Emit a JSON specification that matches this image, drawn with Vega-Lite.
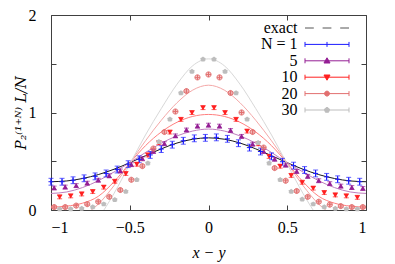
{
  "$schema": "https://vega.github.io/schema/vega-lite/v6.json",
  "width": 315,
  "height": 195,
  "autosize": {"type": "none"},
  "padding": {"left": 51, "top": 15, "right": 29, "bottom": 54},
  "background": "white",
  "config": {
    "font": "Liberation Serif",
    "view": {"stroke": "#404040", "strokeWidth": 1},
    "axis": {
      "labelFont": "Liberation Serif", "labelFontSize": 16, "labelColor": "black",
      "titleFont": "Liberation Serif", "titleFontSize": 16, "titleFontWeight": "normal", "titleFontStyle": "italic", "titleColor": "black",
      "tickColor": "#404040", "tickSize": -5, "domain": false, "grid": false
    }
  },
  "datasets": {
    "curves": [
      {"N": "e1", "x": -1, "y": 0.29}, {"N": "e1", "x": -0.9, "y": 0.298}, {"N": "e1", "x": -0.8, "y": 0.323}, {"N": "e1", "x": -0.7, "y": 0.363}, {"N": "e1", "x": -0.6, "y": 0.418}, {"N": "e1", "x": -0.5, "y": 0.485}, {"N": "e1", "x": -0.4, "y": 0.557}, {"N": "e1", "x": -0.3, "y": 0.627}, {"N": "e1", "x": -0.2, "y": 0.687}, {"N": "e1", "x": -0.1, "y": 0.726}, {"N": "e1", "x": 0, "y": 0.74},
      {"N": "e1", "x": 0.1, "y": 0.726}, {"N": "e1", "x": 0.2, "y": 0.687}, {"N": "e1", "x": 0.3, "y": 0.627}, {"N": "e1", "x": 0.4, "y": 0.557}, {"N": "e1", "x": 0.5, "y": 0.485}, {"N": "e1", "x": 0.6, "y": 0.418}, {"N": "e1", "x": 0.7, "y": 0.363}, {"N": "e1", "x": 0.8, "y": 0.323}, {"N": "e1", "x": 0.9, "y": 0.298}, {"N": "e1", "x": 1, "y": 0.29},
      {"N": "e5", "x": -1, "y": 0.17}, {"N": "e5", "x": -0.9, "y": 0.185}, {"N": "e5", "x": -0.8, "y": 0.23}, {"N": "e5", "x": -0.7, "y": 0.3}, {"N": "e5", "x": -0.6, "y": 0.39}, {"N": "e5", "x": -0.5, "y": 0.485}, {"N": "e5", "x": -0.4, "y": 0.59}, {"N": "e5", "x": -0.3, "y": 0.685}, {"N": "e5", "x": -0.2, "y": 0.76}, {"N": "e5", "x": -0.1, "y": 0.81}, {"N": "e5", "x": 0, "y": 0.83},
      {"N": "e5", "x": 0.1, "y": 0.81}, {"N": "e5", "x": 0.2, "y": 0.76}, {"N": "e5", "x": 0.3, "y": 0.685}, {"N": "e5", "x": 0.4, "y": 0.59}, {"N": "e5", "x": 0.5, "y": 0.485}, {"N": "e5", "x": 0.6, "y": 0.39}, {"N": "e5", "x": 0.7, "y": 0.3}, {"N": "e5", "x": 0.8, "y": 0.23}, {"N": "e5", "x": 0.9, "y": 0.185}, {"N": "e5", "x": 1, "y": 0.17},
      {"N": "e10", "x": -1, "y": 0.03}, {"N": "e10", "x": -0.9, "y": 0.04}, {"N": "e10", "x": -0.8, "y": 0.07}, {"N": "e10", "x": -0.7, "y": 0.14}, {"N": "e10", "x": -0.6, "y": 0.29}, {"N": "e10", "x": -0.5, "y": 0.48}, {"N": "e10", "x": -0.4, "y": 0.66}, {"N": "e10", "x": -0.3, "y": 0.8}, {"N": "e10", "x": -0.2, "y": 0.9}, {"N": "e10", "x": -0.1, "y": 0.96}, {"N": "e10", "x": 0, "y": 0.98},
      {"N": "e10", "x": 0.1, "y": 0.96}, {"N": "e10", "x": 0.2, "y": 0.9}, {"N": "e10", "x": 0.3, "y": 0.8}, {"N": "e10", "x": 0.4, "y": 0.66}, {"N": "e10", "x": 0.5, "y": 0.48}, {"N": "e10", "x": 0.6, "y": 0.29}, {"N": "e10", "x": 0.7, "y": 0.14}, {"N": "e10", "x": 0.8, "y": 0.07}, {"N": "e10", "x": 0.9, "y": 0.04}, {"N": "e10", "x": 1, "y": 0.03},
      {"N": "e20", "x": -1, "y": -0.14}, {"N": "e20", "x": -0.9, "y": -0.12}, {"N": "e20", "x": -0.8, "y": -0.06}, {"N": "e20", "x": -0.7, "y": 0.06}, {"N": "e20", "x": -0.6, "y": 0.25}, {"N": "e20", "x": -0.5, "y": 0.48}, {"N": "e20", "x": -0.4, "y": 0.71}, {"N": "e20", "x": -0.3, "y": 0.92}, {"N": "e20", "x": -0.2, "y": 1.1}, {"N": "e20", "x": -0.1, "y": 1.23}, {"N": "e20", "x": 0, "y": 1.28},
      {"N": "e20", "x": 0.1, "y": 1.23}, {"N": "e20", "x": 0.2, "y": 1.1}, {"N": "e20", "x": 0.3, "y": 0.92}, {"N": "e20", "x": 0.4, "y": 0.71}, {"N": "e20", "x": 0.5, "y": 0.48}, {"N": "e20", "x": 0.6, "y": 0.25}, {"N": "e20", "x": 0.7, "y": 0.06}, {"N": "e20", "x": 0.8, "y": -0.06}, {"N": "e20", "x": 0.9, "y": -0.12}, {"N": "e20", "x": 1, "y": -0.14},
      {"N": "e30", "x": -1, "y": -0.3}, {"N": "e30", "x": -0.9, "y": -0.28}, {"N": "e30", "x": -0.8, "y": -0.22}, {"N": "e30", "x": -0.7, "y": -0.08}, {"N": "e30", "x": -0.6, "y": 0.17}, {"N": "e30", "x": -0.5, "y": 0.47}, {"N": "e30", "x": -0.4, "y": 0.77}, {"N": "e30", "x": -0.3, "y": 1.04}, {"N": "e30", "x": -0.2, "y": 1.29}, {"N": "e30", "x": -0.1, "y": 1.48}, {"N": "e30", "x": 0, "y": 1.55},
      {"N": "e30", "x": 0.1, "y": 1.48}, {"N": "e30", "x": 0.2, "y": 1.29}, {"N": "e30", "x": 0.3, "y": 1.04}, {"N": "e30", "x": 0.4, "y": 0.77}, {"N": "e30", "x": 0.5, "y": 0.47}, {"N": "e30", "x": 0.6, "y": 0.17}, {"N": "e30", "x": 0.7, "y": -0.08}, {"N": "e30", "x": 0.8, "y": -0.22}, {"N": "e30", "x": 0.9, "y": -0.28}, {"N": "e30", "x": 1, "y": -0.3}
    ],
    "pts": [
      {"N": "1", "x": -1, "y": 0.29, "e": 0.035}, {"N": "1", "x": -0.93, "y": 0.29, "e": 0.035}, {"N": "1", "x": -0.86, "y": 0.305, "e": 0.035}, {"N": "1", "x": -0.79, "y": 0.325, "e": 0.035}, {"N": "1", "x": -0.72, "y": 0.345, "e": 0.035}, {"N": "1", "x": -0.65, "y": 0.375, "e": 0.035}, {"N": "1", "x": -0.58, "y": 0.415, "e": 0.035}, {"N": "1", "x": -0.51, "y": 0.47, "e": 0.035}, {"N": "1", "x": -0.44, "y": 0.52, "e": 0.035}, {"N": "1", "x": -0.37, "y": 0.565, "e": 0.035}, {"N": "1", "x": -0.3, "y": 0.625, "e": 0.035}, {"N": "1", "x": -0.23, "y": 0.67, "e": 0.035}, {"N": "1", "x": -0.16, "y": 0.71, "e": 0.035}, {"N": "1", "x": -0.09, "y": 0.735, "e": 0.035}, {"N": "1", "x": -0.02, "y": 0.74, "e": 0.035},
      {"N": "1", "x": 0.05, "y": 0.745, "e": 0.035}, {"N": "1", "x": 0.12, "y": 0.73, "e": 0.035}, {"N": "1", "x": 0.19, "y": 0.685, "e": 0.035}, {"N": "1", "x": 0.26, "y": 0.64, "e": 0.035}, {"N": "1", "x": 0.33, "y": 0.6, "e": 0.035}, {"N": "1", "x": 0.4, "y": 0.55, "e": 0.035}, {"N": "1", "x": 0.47, "y": 0.495, "e": 0.035}, {"N": "1", "x": 0.54, "y": 0.455, "e": 0.035}, {"N": "1", "x": 0.61, "y": 0.41, "e": 0.035}, {"N": "1", "x": 0.68, "y": 0.375, "e": 0.035}, {"N": "1", "x": 0.75, "y": 0.34, "e": 0.035}, {"N": "1", "x": 0.82, "y": 0.315, "e": 0.035}, {"N": "1", "x": 0.89, "y": 0.3, "e": 0.035}, {"N": "1", "x": 0.96, "y": 0.29, "e": 0.035},
      {"N": "5", "x": -0.98, "y": 0.225, "e": 0.02}, {"N": "5", "x": -0.91, "y": 0.235, "e": 0.02}, {"N": "5", "x": -0.84, "y": 0.25, "e": 0.02}, {"N": "5", "x": -0.77, "y": 0.275, "e": 0.02}, {"N": "5", "x": -0.7, "y": 0.305, "e": 0.02}, {"N": "5", "x": -0.63, "y": 0.35, "e": 0.02}, {"N": "5", "x": -0.56, "y": 0.4, "e": 0.02}, {"N": "5", "x": -0.49, "y": 0.465, "e": 0.02}, {"N": "5", "x": -0.42, "y": 0.525, "e": 0.02}, {"N": "5", "x": -0.35, "y": 0.6, "e": 0.02}, {"N": "5", "x": -0.28, "y": 0.68, "e": 0.02}, {"N": "5", "x": -0.21, "y": 0.76, "e": 0.02}, {"N": "5", "x": -0.14, "y": 0.82, "e": 0.02}, {"N": "5", "x": -0.07, "y": 0.86, "e": 0.02}, {"N": "5", "x": 0, "y": 0.87, "e": 0.02},
      {"N": "5", "x": 0.07, "y": 0.86, "e": 0.02}, {"N": "5", "x": 0.14, "y": 0.815, "e": 0.02}, {"N": "5", "x": 0.21, "y": 0.755, "e": 0.02}, {"N": "5", "x": 0.28, "y": 0.675, "e": 0.02}, {"N": "5", "x": 0.35, "y": 0.6, "e": 0.02}, {"N": "5", "x": 0.42, "y": 0.52, "e": 0.02}, {"N": "5", "x": 0.49, "y": 0.46, "e": 0.02}, {"N": "5", "x": 0.56, "y": 0.395, "e": 0.02}, {"N": "5", "x": 0.63, "y": 0.345, "e": 0.02}, {"N": "5", "x": 0.7, "y": 0.3, "e": 0.02}, {"N": "5", "x": 0.77, "y": 0.27, "e": 0.02}, {"N": "5", "x": 0.84, "y": 0.245, "e": 0.02}, {"N": "5", "x": 0.91, "y": 0.23, "e": 0.02}, {"N": "5", "x": 0.98, "y": 0.22, "e": 0.02},
      {"N": "10", "x": -0.945, "y": 0.135, "e": 0.02}, {"N": "10", "x": -0.875, "y": 0.145, "e": 0.02}, {"N": "10", "x": -0.805, "y": 0.165, "e": 0.02}, {"N": "10", "x": -0.735, "y": 0.19, "e": 0.02}, {"N": "10", "x": -0.665, "y": 0.235, "e": 0.02}, {"N": "10", "x": -0.595, "y": 0.295, "e": 0.02}, {"N": "10", "x": -0.525, "y": 0.375, "e": 0.02}, {"N": "10", "x": -0.455, "y": 0.47, "e": 0.02}, {"N": "10", "x": -0.385, "y": 0.565, "e": 0.02}, {"N": "10", "x": -0.315, "y": 0.69, "e": 0.02}, {"N": "10", "x": -0.245, "y": 0.8, "e": 0.02}, {"N": "10", "x": -0.175, "y": 0.93, "e": 0.02}, {"N": "10", "x": -0.105, "y": 1.0, "e": 0.02}, {"N": "10", "x": -0.035, "y": 1.05, "e": 0.02},
      {"N": "10", "x": 0.035, "y": 1.05, "e": 0.02}, {"N": "10", "x": 0.105, "y": 1.0, "e": 0.02}, {"N": "10", "x": 0.175, "y": 0.93, "e": 0.02}, {"N": "10", "x": 0.245, "y": 0.81, "e": 0.02}, {"N": "10", "x": 0.315, "y": 0.68, "e": 0.02}, {"N": "10", "x": 0.385, "y": 0.55, "e": 0.02}, {"N": "10", "x": 0.455, "y": 0.45, "e": 0.02}, {"N": "10", "x": 0.525, "y": 0.355, "e": 0.02}, {"N": "10", "x": 0.595, "y": 0.285, "e": 0.02}, {"N": "10", "x": 0.665, "y": 0.225, "e": 0.02}, {"N": "10", "x": 0.735, "y": 0.18, "e": 0.02}, {"N": "10", "x": 0.805, "y": 0.155, "e": 0.02}, {"N": "10", "x": 0.875, "y": 0.145, "e": 0.02}, {"N": "10", "x": 0.945, "y": 0.13, "e": 0.02},
      {"N": "20", "x": -0.98, "y": 0.03, "e": 0.015}, {"N": "20", "x": -0.91, "y": 0.03, "e": 0.015}, {"N": "20", "x": -0.84, "y": 0.045, "e": 0.015}, {"N": "20", "x": -0.77, "y": 0.06, "e": 0.015}, {"N": "20", "x": -0.7, "y": 0.085, "e": 0.015}, {"N": "20", "x": -0.63, "y": 0.135, "e": 0.015}, {"N": "20", "x": -0.56, "y": 0.205, "e": 0.015}, {"N": "20", "x": -0.49, "y": 0.31, "e": 0.015}, {"N": "20", "x": -0.42, "y": 0.45, "e": 0.015}, {"N": "20", "x": -0.35, "y": 0.63, "e": 0.015}, {"N": "20", "x": -0.28, "y": 0.8, "e": 0.015}, {"N": "20", "x": -0.21, "y": 1.01, "e": 0.015}, {"N": "20", "x": -0.14, "y": 1.22, "e": 0.015}, {"N": "20", "x": -0.07, "y": 1.36, "e": 0.015}, {"N": "20", "x": 0, "y": 1.39, "e": 0.015},
      {"N": "20", "x": 0.07, "y": 1.36, "e": 0.015}, {"N": "20", "x": 0.14, "y": 1.2, "e": 0.015}, {"N": "20", "x": 0.21, "y": 1.0, "e": 0.015}, {"N": "20", "x": 0.28, "y": 0.8, "e": 0.015}, {"N": "20", "x": 0.35, "y": 0.64, "e": 0.015}, {"N": "20", "x": 0.42, "y": 0.43, "e": 0.015}, {"N": "20", "x": 0.49, "y": 0.3, "e": 0.015}, {"N": "20", "x": 0.56, "y": 0.195, "e": 0.015}, {"N": "20", "x": 0.63, "y": 0.135, "e": 0.015}, {"N": "20", "x": 0.7, "y": 0.085, "e": 0.015}, {"N": "20", "x": 0.77, "y": 0.055, "e": 0.015}, {"N": "20", "x": 0.84, "y": 0.04, "e": 0.015}, {"N": "20", "x": 0.91, "y": 0.03, "e": 0.015}, {"N": "20", "x": 0.98, "y": 0.03, "e": 0.015},
      {"N": "30", "x": -0.945, "y": 0.01, "e": 0.01}, {"N": "30", "x": -0.875, "y": 0.01, "e": 0.01}, {"N": "30", "x": -0.805, "y": 0.015, "e": 0.01}, {"N": "30", "x": -0.735, "y": 0.03, "e": 0.01}, {"N": "30", "x": -0.665, "y": 0.06, "e": 0.01}, {"N": "30", "x": -0.595, "y": 0.105, "e": 0.01}, {"N": "30", "x": -0.525, "y": 0.19, "e": 0.01}, {"N": "30", "x": -0.455, "y": 0.31, "e": 0.01}, {"N": "30", "x": -0.385, "y": 0.48, "e": 0.01}, {"N": "30", "x": -0.315, "y": 0.7, "e": 0.01}, {"N": "30", "x": -0.245, "y": 0.93, "e": 0.01}, {"N": "30", "x": -0.175, "y": 1.2, "e": 0.01}, {"N": "30", "x": -0.105, "y": 1.42, "e": 0.01}, {"N": "30", "x": -0.035, "y": 1.545, "e": 0.01},
      {"N": "30", "x": 0.035, "y": 1.545, "e": 0.01}, {"N": "30", "x": 0.105, "y": 1.42, "e": 0.01}, {"N": "30", "x": 0.175, "y": 1.2, "e": 0.01}, {"N": "30", "x": 0.245, "y": 0.93, "e": 0.01}, {"N": "30", "x": 0.315, "y": 0.69, "e": 0.01}, {"N": "30", "x": 0.385, "y": 0.48, "e": 0.01}, {"N": "30", "x": 0.455, "y": 0.31, "e": 0.01}, {"N": "30", "x": 0.525, "y": 0.19, "e": 0.01}, {"N": "30", "x": 0.595, "y": 0.11, "e": 0.01}, {"N": "30", "x": 0.665, "y": 0.06, "e": 0.01}, {"N": "30", "x": 0.735, "y": 0.03, "e": 0.01}, {"N": "30", "x": 0.805, "y": 0.015, "e": 0.01}, {"N": "30", "x": 0.875, "y": 0.01, "e": 0.01}, {"N": "30", "x": 0.945, "y": 0.01, "e": 0.01}
    ]
  },
  "resolve": {"axis": {"x": "independent", "y": "independent"}},
  "layer": [
    {
      "data": {"name": "curves"},
      "mark": {"type": "line", "strokeWidth": 1, "interpolate": "monotone", "clip": true},
      "encoding": {
        "x": {"field": "x", "type": "quantitative", "scale": {"domain": [-1, 1], "nice": false, "zero": false},
              "axis": {"values": [-1, -0.5, 0, 0.5, 1], "format": "~g", "title": "x − y", "labelPadding": 14, "titleY": 42, "titleBaseline": "middle"}},
        "y": {"field": "y", "type": "quantitative", "scale": {"domain": [0, 2], "nice": false, "zero": false},
              "axis": {"values": [0, 0.5, 1, 1.5, 2], "format": "~g", "labelExpr": "datum.value % 1 === 0 ? datum.label : ''", "title": "P₂⁽¹⁺ᴺ⁾ L/N", "titleFont": "DejaVu Serif", "titleFontSize": 14, "labelPadding": 20, "titleX": -30, "titleBaseline": "middle"}},
        "color": {
          "field": "N", "type": "nominal",
          "scale": {
            "domain": ["exact", "1", "5", "10", "20", "30", "e1", "e5", "e10", "e20", "e30"],
            "range": ["#555555", "#1a1aff", "#941e94", "#ff2020", "#e27070", "#bdbdbd", "#1a1a1a", "#bf7fbf", "#ff8080", "#f4a8a8", "#d8d8d8"]
          },
          "legend": {
            "orient": "none", "legendX": 268, "legendY": 5, "title": null,
            "values": ["exact", "1", "5", "10", "20", "30"],
            "labelExpr": "datum.value === '1' ? 'N = 1' : datum.value",
            "labelAlign": "right", "labelOffset": -37.5,
            "labelFont": "Liberation Serif", "labelFontSize": 16, "labelColor": "black",
            "symbolSize": 121, "symbolStrokeWidth": 1, "rowPadding": 0.4,
            "encode": {
              "symbols": {
                "update": {
                  "shape": {"signal": "datum.value === 'exact' ? 'M-4,0L-2.4,0M-0.8,0L0.8,0M2.4,0L4,0' : datum.value === '1' ? 'M-4,0L4,0M-4,-0.45L-4,0.45M4,-0.45L4,0.45M0,-0.45L0,0.45' : datum.value === '5' ? 'M-4,0L4,0M-4,-0.45L-4,0.45M4,-0.45L4,0.45M0,-0.55L0.55,0.4L-0.55,0.4Z' : datum.value === '10' ? 'M-4,0L4,0M-4,-0.45L-4,0.45M4,-0.45L4,0.45M0,0.55L0.55,-0.4L-0.55,-0.4Z' : datum.value === '20' ? 'M-4,0L4,0M-4,-0.45L-4,0.45M4,-0.45L4,0.45M0.45,0A0.45,0.45 0 1,1 -0.45,0A0.45,0.45 0 1,1 0.45,0ZM0,-0.45L0,0.45' : 'M-4,0L4,0M-4,-0.45L-4,0.45M4,-0.45L4,0.45M0,-0.5L0.476,-0.155L0.294,0.405L-0.294,0.405L-0.476,-0.155Z'"},
                  "stroke": {"signal": "scale('color', datum.value)"},
                  "fill": {"signal": "indexof(['5','10','30'], datum.value) >= 0 ? scale('color', datum.value) : 'transparent'"},
                  "strokeWidth": {"value": 1},
                  "opacity": {"value": 1}
                }
              }
            }
          }
        }
      }
    },
    {
      "data": {"name": "pts"},
      "mark": {"type": "errorbar", "ticks": {"size": 5}, "thickness": 1},
      "encoding": {
        "x": {"field": "x", "type": "quantitative", "axis": null},
        "y": {"field": "y", "type": "quantitative", "axis": null},
        "yError": {"field": "e"},
        "color": {"field": "N", "type": "nominal"}
      }
    },
    {
      "data": {"name": "pts"},
      "transform": [{"filter": {"field": "N", "oneOf": ["5", "10", "30"]}}],
      "mark": {"type": "point", "filled": true, "size": 30, "opacity": 1},
      "encoding": {
        "x": {"field": "x", "type": "quantitative", "axis": null},
        "y": {"field": "y", "type": "quantitative", "axis": null},
        "color": {"field": "N", "type": "nominal"},
        "shape": {"field": "N", "type": "nominal", "legend": null,
                  "scale": {"domain": ["1", "5", "10", "20", "30"],
                            "range": ["M-1,0L1,0M0,-1L0,1", "M0,-1L1,0.75L-1,0.75Z", "M0,1L1,-0.75L-1,-0.75Z", "M1,0A1,1 0 1,1 -1,0A1,1 0 1,1 1,0ZM-1,0L1,0M0,-1L0,1", "M0,-1L0.951,-0.309L0.588,0.809L-0.588,0.809L-0.951,-0.309Z"]}}
      }
    },
    {
      "data": {"name": "pts"},
      "transform": [{"filter": {"field": "N", "oneOf": ["1", "20"]}}],
      "mark": {"type": "point", "filled": false, "size": 26, "opacity": 1, "strokeWidth": 1},
      "encoding": {
        "x": {"field": "x", "type": "quantitative",
              "axis": {"orient": "top", "values": [-1, -0.5, 0, 0.5, 1], "labels": false, "title": null}},
        "y": {"field": "y", "type": "quantitative",
              "axis": {"orient": "right", "values": [0, 0.5, 1, 1.5, 2], "labels": false, "title": null}},
        "color": {"field": "N", "type": "nominal"},
        "shape": {"field": "N", "type": "nominal", "legend": null}
      }
    }
  ]
}
